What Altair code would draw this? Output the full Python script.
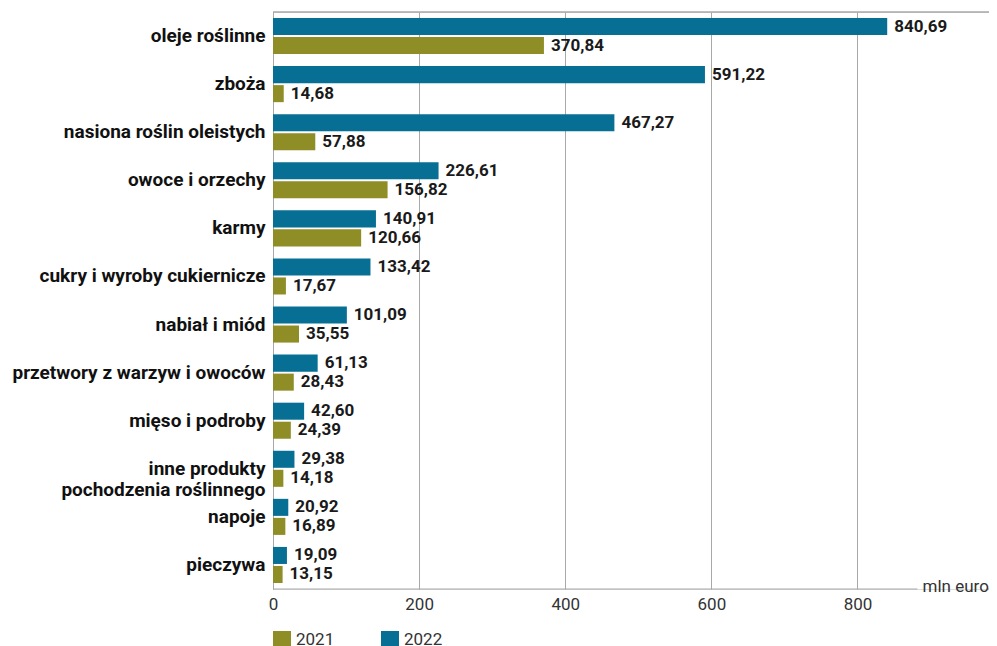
import altair as alt
import pandas as pd

categories = ["oleje roślinne", "zboża ", "nasiona roślin oleistych", "owoce i orzechy",
              "karmy ", "cukry i wyroby cukiernicze", "nabiał i miód",
              "przetwory z warzyw i owoców", "mięso i podroby",
              "inne produkty|pochodzenia roślinnego", "napoje ", "pieczywa"]
v2022 = [840.69, 591.22, 467.27, 226.61, 140.91, 133.42, 101.09, 61.13, 42.60, 29.38, 20.92, 19.09]
v2021 = [370.84, 14.68, 57.88, 156.82, 120.66, 17.67, 35.55, 28.43, 24.39, 14.18, 16.89, 13.15]
years = ["2021", "2022"]
colors = ["#8f8d25", "#076f93"]
x_ticks = [0, 200, 400, 600, 800]
x_max = 980

rows = []
for c, a, b in zip(categories, v2021, v2022):
    rows.append({"cat": c, "year": "2022", "value": b, "label": f"{b:.2f}".replace(".", ",")})
    rows.append({"cat": c, "year": "2021", "value": a, "label": f"{a:.2f}".replace(".", ",")})
df = pd.DataFrame(rows)

W, H = 716, 577
xscale = alt.Scale(domain=[0, x_max], nice=False, zero=True)

base = alt.Chart(df).encode(
    y=alt.Y("cat:N", sort=categories, title=None,
            scale=alt.Scale(paddingInner=0, paddingOuter=0),
            axis=alt.Axis(labelExpr="split(datum.label, '|')", labelFontSize=19,
                          labelFontWeight="bold", labelColor="#111111", labelFont="Roboto",
                          labelPadding=8, labelLimit=400, labelLineHeight=21,
                          ticks=False, domain=True, domainColor="#a8a8a8", grid=False)),
    yOffset=alt.YOffset("year:N", sort=["2022", "2021"],
                        scale=alt.Scale(paddingInner=0.105, paddingOuter=0.316)),
)

bars = base.mark_bar().encode(
    x=alt.X("value:Q", scale=xscale, title=None,
            axis=alt.Axis(values=x_ticks, grid=True, gridColor="#a8a8a8", domain=False,
                          ticks=False, labelFontSize=17, labelColor="#333333",
                          labelFont="Roboto", labelPadding=7, labelFlush=False)),
    color=alt.Color("year:N", scale=alt.Scale(domain=years, range=colors),
                    legend=alt.Legend(orient="none", legendX=0, legendY=619, title=None,
                                      direction="horizontal", symbolType="square",
                                      symbolSize=324, symbolStrokeWidth=0,
                                      labelFontSize=17, labelColor="#333333",
                                      labelFont="Roboto", labelOffset=5,
                                      columnPadding=46)),
)

texts = base.mark_text(align="left", baseline="middle", dx=7, fontSize=17,
                       fontWeight="bold", font="Roboto", color="#1a1a1a").encode(
    x=alt.X("value:Q", scale=xscale),
    text="label:N",
)

frame_df = pd.DataFrame({"a": [0, 979], "b": [882, x_max]})
bottom_rules = alt.Chart(frame_df).mark_rule(color="#a8a8a8", strokeWidth=1).encode(
    x=alt.X("a:Q", scale=xscale), x2="b:Q", y=alt.value(H))
top_rule = alt.Chart(frame_df).mark_rule(color="#a8a8a8", strokeWidth=1).encode(
    x=alt.value(0), x2=alt.value(W), y=alt.value(0))
unit_text = alt.Chart(pd.DataFrame({"t": ["mln euro"]})).mark_text(
    align="left", baseline="middle", fontSize=17, font="Roboto", color="#333333", dx=0
).encode(x=alt.datum(889, scale=xscale), y=alt.value(H - 2), text="t:N")

chart = alt.layer(bars, texts, bottom_rules, top_rule, unit_text).properties(
    width=W, height=H,
    autosize=alt.AutoSizeParams(type="none"),
    padding={"left": 265, "top": 4, "right": 0, "bottom": 62},
).configure_view(stroke=None).configure(font="Roboto")

chart.save("out.html", embed_options={"renderer": "svg", "actions": False})
